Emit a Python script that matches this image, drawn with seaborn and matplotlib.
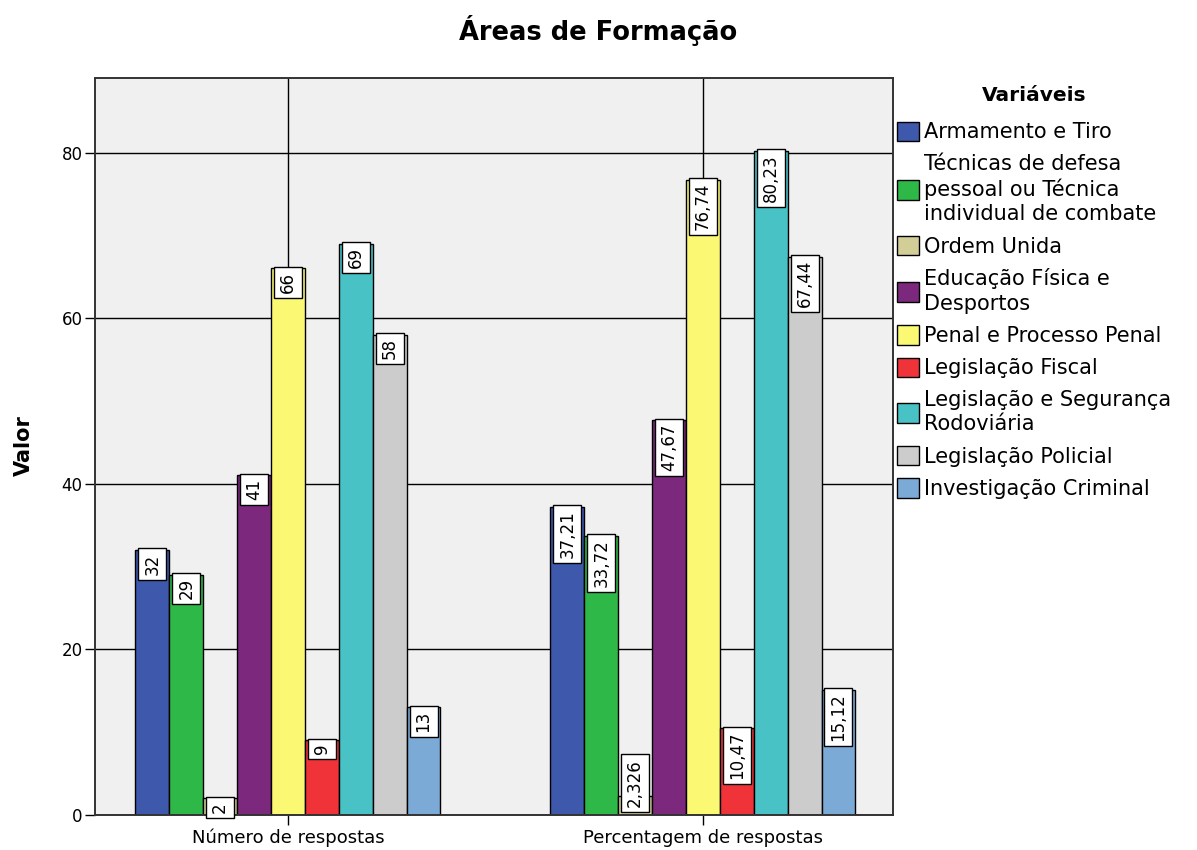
import matplotlib
matplotlib.use("Agg")
import matplotlib.pyplot as plt
import seaborn as sns
import pandas as pd

groups = ["Número de respostas", "Percentagem de respostas"]
variables = [
    "Armamento e Tiro",
    "Técnicas de defesa\npessoal ou Técnica\nindividual de combate",
    "Ordem Unida",
    "Educação Física e\nDesportos",
    "Penal e Processo Penal",
    "Legislação Fiscal",
    "Legislação e Segurança\nRodoviária",
    "Legislação Policial",
    "Investigação Criminal",
]
numero = [32, 29, 2, 41, 66, 9, 69, 58, 13]
percentagem = [37.21, 33.72, 2.326, 47.67, 76.74, 10.47, 80.23, 67.44, 15.12]
labels_numero = ["32", "29", "2", "41", "66", "9", "69", "58", "13"]
labels_percentagem = ["37,21", "33,72", "2,326", "47,67", "76,74", "10,47", "80,23", "67,44", "15,12"]
colors = ["#3E58AC", "#2EB848", "#D3CE97", "#7C287D", "#FBF873",
          "#EF3338", "#48C2C5", "#CCCCCC", "#7AAAD5"]

rows = []
for v, a, b in zip(variables, numero, percentagem):
    rows.append({"grupo": groups[0], "var": v, "valor": a})
    rows.append({"grupo": groups[1], "var": v, "valor": b})
df = pd.DataFrame(rows)

sns.set_theme(style="white")
plt.rcParams["font.family"] = ["DejaVu Sans"]
for k in ["text.color", "axes.labelcolor", "xtick.color", "ytick.color"]:
    plt.rcParams[k] = "black"

fig = plt.figure(figsize=(11.97, 8.5), dpi=100)
ax = fig.add_axes([95 / 1197, 1 - 815 / 850, (893 - 95) / 1197, (815 - 78) / 850])
ax.set_facecolor("#F0F0F0")

sns.barplot(data=df, x="grupo", y="valor", hue="var", order=groups,
            hue_order=variables, palette=colors, saturation=1, width=0.735,
            edgecolor="black", linewidth=1, ax=ax, legend=True)

ax.set_xlim(-0.465, 1.458)
ax.set_ylim(0, 89)
ax.set_yticks([0, 20, 40, 60, 80])
ax.set_axisbelow(True)
ax.grid(True, color="black", linewidth=1)
for s in ax.spines.values():
    s.set_color("#333333")
    s.set_linewidth(1.4)
    s.set_visible(True)
ax.tick_params(axis="both", which="major", direction="out", length=7, width=1,
               color="black", left=True, bottom=True)
ax.tick_params(axis="y", labelsize=12, pad=2)
ax.tick_params(axis="x", labelsize=13, pad=3)
ax.set_xlabel("")
ax.set_ylabel("")

all_labels = [labels_numero, labels_percentagem]
for i, cont in enumerate(ax.containers):
    for j, bar in enumerate(cont):
        x = bar.get_x() + bar.get_width() / 2
        h = bar.get_height()
        lab = all_labels[j][i]
        if len(lab) > 2 and h < 8:
            y, va, off = 0.3, "bottom", 4
        else:
            y, va, off = h, "top", -2.5
        ax.annotate(lab, (x, y), xytext=(0, off), textcoords="offset points",
                    rotation=90, ha="center", va=va, fontsize=12,
                    bbox=dict(boxstyle="square,pad=0.3", fc="white", ec="black", lw=1),
                    annotation_clip=False)

handles, labs = ax.get_legend_handles_labels()
ax.get_legend().remove()
leg = fig.legend(handles, labs, loc="upper left", bbox_to_anchor=(897 / 1197, 1 - 86 / 850),
                 frameon=False, title="Variáveis", fontsize=15,
                 title_fontproperties={"weight": "bold", "size": 14.5},
                 handlelength=1.05, handleheight=1.05, handletextpad=0.25,
                 labelspacing=0.56, borderpad=0, borderaxespad=0)
leg._legend_box.sep = 12
for t in leg.get_texts():
    t.set_linespacing(1.26)
for h in leg.legend_handles:
    h.set_edgecolor("black")
    h.set_linewidth(1)

fig.suptitle("Áreas de Formação", x=0.5, y=1 - 31 / 850, va="center",
             fontsize=18.5, fontweight="bold")
fig.text(24 / 1197, 1 - 446 / 850, "Valor", rotation=90, ha="center", va="center",
         fontsize=15, fontweight="bold")

fig.savefig("out.png", dpi=100)
